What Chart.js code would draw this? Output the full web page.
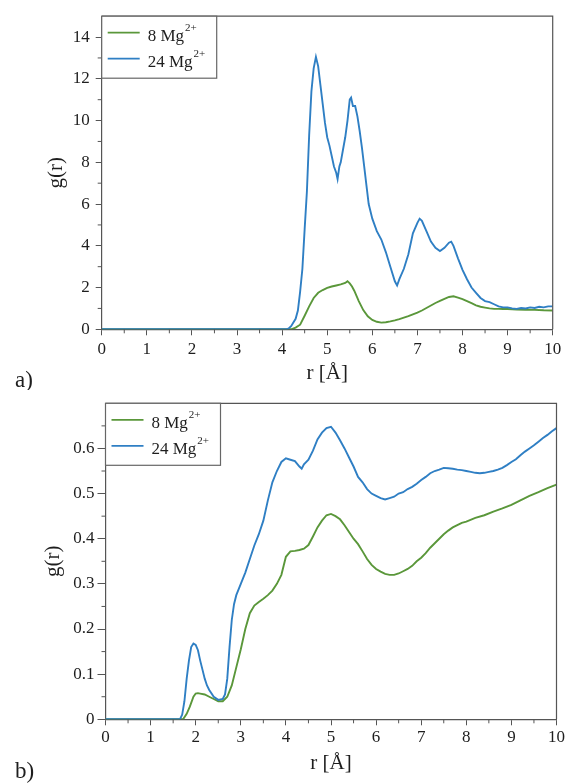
<!DOCTYPE html>
<html>
<head>
<meta charset="utf-8">
<script src="https://cdn.jsdelivr.net/npm/chart.js@4"></script>
<style>
  html, body { margin: 0; padding: 0; background: #fff; }
  #wrap { position: relative; width: 568px; height: 783px; }
  .panel { position: absolute; left: 0; width: 568px; }
  #panelA { top: 0; height: 390px; }
  #panelB { top: 390px; height: 393px; }
</style>
</head>
<body>
<div id="wrap">
  <div class="panel" id="panelA"><canvas id="chartA"></canvas></div>
  <div class="panel" id="panelB"><canvas id="chartB"></canvas></div>
</div>
<script>
// legend text: "<count> Mg" followed by a raised charge
const ionLabels = ['8 Mg', '24 Mg'];
const ionCharge = '2+';
const lineColors = ['#5a973a', '#2f7fc4'];

// panel a) – r in Å, g(r)
const rA8 = [0, 4.2, 4.3, 4.4, 4.5, 4.6, 4.7, 4.8, 4.9, 5.0, 5.1, 5.2, 5.3, 5.4, 5.45, 5.5, 5.55, 5.6,
  5.7, 5.8, 5.9, 6.0, 6.1, 6.2, 6.3, 6.4, 6.5, 6.6, 6.7, 6.8, 6.9, 7.0, 7.1, 7.2, 7.3, 7.4, 7.5, 7.6,
  7.7, 7.8, 7.9, 8.0, 8.1, 8.2, 8.3, 8.4, 8.5, 8.6, 8.7, 8.8, 8.9, 9.0, 9.2, 9.4, 9.6, 9.8, 10];
const gA8 = [0, 0, 0.08, 0.22, 0.65, 1.1, 1.5, 1.75, 1.88, 1.98, 2.05, 2.1, 2.15, 2.22, 2.3, 2.2, 2.05, 1.85,
  1.35, 0.92, 0.62, 0.45, 0.36, 0.32, 0.34, 0.38, 0.43, 0.49, 0.56, 0.63, 0.72, 0.8, 0.9, 1.02, 1.14, 1.26, 1.36, 1.46,
  1.55, 1.58, 1.52, 1.45, 1.35, 1.25, 1.15, 1.08, 1.04, 1.0, 0.98, 0.98, 0.97, 0.97, 0.95, 0.94, 0.93, 0.91, 0.9];

const rA24 = [0, 4.1, 4.15, 4.2, 4.3, 4.35, 4.4, 4.45, 4.5, 4.55, 4.6, 4.65, 4.7, 4.75, 4.8, 4.85, 4.9, 4.95,
  5.0, 5.05, 5.1, 5.15, 5.2, 5.23, 5.27, 5.3, 5.35, 5.4, 5.45, 5.5, 5.53, 5.57, 5.62, 5.67, 5.72, 5.77, 5.82, 5.87,
  5.92, 6.0, 6.1, 6.2, 6.3, 6.4, 6.5, 6.55, 6.6, 6.7, 6.8, 6.9, 7.0, 7.05, 7.1, 7.2, 7.3, 7.4, 7.5, 7.6, 7.7, 7.75,
  7.8, 7.9, 8.0, 8.1, 8.2, 8.3, 8.4, 8.5, 8.6, 8.7, 8.8, 8.9, 9.0, 9.1, 9.2, 9.3, 9.4, 9.5, 9.6, 9.7, 9.8, 9.9, 10];
const gA24 = [0, 0, 0.05, 0.15, 0.5, 0.9, 1.8, 2.9, 4.8, 6.6, 9.3, 11.4, 12.5, 13.05, 12.6, 11.7, 10.8, 9.9,
  9.2, 8.8, 8.3, 7.8, 7.5, 7.2, 7.8, 8.0, 8.6, 9.2, 10.0, 11.0, 11.1, 10.7, 10.7, 10.2, 9.5, 8.7, 7.8, 6.9,
  6.0, 5.3, 4.7, 4.3, 3.7, 3.0, 2.3, 2.1, 2.4, 2.9, 3.6, 4.6, 5.1, 5.3, 5.2, 4.7, 4.2, 3.9, 3.75, 3.9, 4.15, 4.2,
  4.0, 3.4, 2.85, 2.4, 2.0, 1.75, 1.5, 1.35, 1.3, 1.2, 1.1, 1.05, 1.05, 1.0, 0.98, 1.02, 1.0, 1.05, 1.02, 1.08, 1.05, 1.1, 1.1];

// panel b)
const rB8 = [0, 1.72, 1.8, 1.87, 1.95, 2.0, 2.05, 2.1, 2.2, 2.3, 2.4, 2.5, 2.6, 2.7, 2.8, 2.9, 3.0, 3.1, 3.2,
  3.3, 3.4, 3.5, 3.6, 3.7, 3.8, 3.9, 4.0, 4.1, 4.2, 4.3, 4.4, 4.5, 4.6, 4.7, 4.8, 4.9, 5.0, 5.1, 5.2, 5.3, 5.4,
  5.5, 5.6, 5.7, 5.8, 5.9, 6.0, 6.1, 6.2, 6.3, 6.4, 6.5, 6.6, 6.7, 6.8, 6.9, 7.0, 7.1, 7.2, 7.3, 7.4, 7.5, 7.6,
  7.7, 7.8, 7.9, 8.0, 8.2, 8.4, 8.6, 8.8, 9.0, 9.2, 9.4, 9.6, 9.8, 10];
const gB8 = [0, 0, 0.012, 0.028, 0.05, 0.057, 0.058, 0.057, 0.055, 0.05, 0.045, 0.04, 0.04, 0.05, 0.075, 0.115, 0.155, 0.2, 0.235,
  0.252, 0.26, 0.267, 0.275, 0.285, 0.3, 0.32, 0.36, 0.372, 0.373, 0.375, 0.378, 0.386, 0.405, 0.425, 0.44, 0.452, 0.455, 0.45, 0.443, 0.43, 0.415,
  0.4, 0.388, 0.372, 0.355, 0.342, 0.333, 0.327, 0.322, 0.32, 0.32, 0.323, 0.328, 0.333, 0.34, 0.35, 0.358, 0.368, 0.38, 0.39, 0.4, 0.41, 0.418,
  0.425, 0.43, 0.435, 0.438, 0.446, 0.452, 0.46, 0.467, 0.475, 0.485, 0.495, 0.503, 0.512, 0.52];

const rB24 = [0, 1.65, 1.7, 1.75, 1.8, 1.85, 1.9, 1.95, 2.0, 2.05, 2.1, 2.15, 2.2, 2.25, 2.3, 2.4, 2.5, 2.6, 2.65,
  2.7, 2.75, 2.8, 2.85, 2.9, 3.0, 3.1, 3.2, 3.3, 3.4, 3.5, 3.6, 3.7, 3.8, 3.9, 4.0, 4.1, 4.2, 4.3, 4.35, 4.4, 4.5,
  4.6, 4.7, 4.8, 4.9, 5.0, 5.1, 5.2, 5.3, 5.4, 5.5, 5.6, 5.7, 5.8, 5.9, 6.0, 6.1, 6.2, 6.3, 6.4, 6.5, 6.6, 6.7,
  6.8, 6.9, 7.0, 7.1, 7.2, 7.3, 7.4, 7.5, 7.6, 7.7, 7.8, 7.9, 8.0, 8.1, 8.2, 8.3, 8.4, 8.5, 8.6, 8.7, 8.8, 8.9,
  9.0, 9.1, 9.2, 9.3, 9.4, 9.5, 9.6, 9.7, 9.8, 9.9, 10];
const gB24 = [0, 0, 0.01, 0.04, 0.09, 0.13, 0.16, 0.168, 0.165, 0.153, 0.13, 0.11, 0.09, 0.075, 0.065, 0.05, 0.043, 0.045, 0.055,
  0.09, 0.16, 0.22, 0.255, 0.275, 0.3, 0.325, 0.355, 0.385, 0.41, 0.44, 0.485, 0.525, 0.55, 0.57, 0.578, 0.575, 0.572, 0.56, 0.555, 0.565, 0.575,
  0.595, 0.62, 0.635, 0.645, 0.648, 0.635, 0.618, 0.6, 0.58, 0.56, 0.537, 0.525, 0.51, 0.5, 0.495, 0.49, 0.487, 0.49, 0.493, 0.5, 0.503, 0.51,
  0.515, 0.522, 0.53, 0.537, 0.545, 0.55, 0.553, 0.557, 0.556, 0.555, 0.553, 0.552, 0.55, 0.548, 0.546, 0.545, 0.546, 0.548, 0.55, 0.553, 0.557, 0.563,
  0.57, 0.576, 0.585, 0.593, 0.6, 0.607, 0.615, 0.623, 0.63, 0.638, 0.645];

const SERIF = '"Liberation Serif", "DejaVu Serif", serif';
const AXIS = '#555';
const TEXT = '#1e1e1e';

const pts = (rs, gs) => rs.map((r, i) => ({ x: r, y: gs[i] }));

// frame, minor ticks, legend box and panel letter
const decorPlugin = {
  id: 'decor',
  afterDraw(chart, args, opts) {
    const { ctx, chartArea: a, scales } = chart;
    ctx.save();
    ctx.strokeStyle = AXIS;
    ctx.lineWidth = 1.2;
    ctx.beginPath();
    ctx.moveTo(a.left, a.top); ctx.lineTo(a.right, a.top); ctx.lineTo(a.right, a.bottom);
    ctx.stroke();

    // minor ticks
    ctx.lineWidth = 1;
    ctx.beginPath();
    for (let v = opts.minorX; v < 10; v += 1) {
      const px = scales.x.getPixelForValue(v);
      ctx.moveTo(px, a.bottom); ctx.lineTo(px, a.bottom + 4);
    }
    opts.minorY.forEach(v => {
      const py = scales.y.getPixelForValue(v);
      ctx.moveTo(a.left, py); ctx.lineTo(a.left - 4, py);
    });
    ctx.stroke();

    // legend
    const lx = a.left, ly = a.top, lw = 115, lh = 62;
    ctx.fillStyle = '#fff';
    ctx.fillRect(lx, ly, lw, lh);
    ctx.strokeStyle = '#666';
    ctx.lineWidth = 1.2;
    ctx.strokeRect(lx, ly, lw, lh);
    ionLabels.forEach((lab, i) => {
      const cy = ly + 16.5 + i * 26;
      ctx.strokeStyle = lineColors[i];
      ctx.lineWidth = 1.8;
      ctx.beginPath();
      ctx.moveTo(lx + 6, cy); ctx.lineTo(lx + 38, cy);
      ctx.stroke();
      ctx.fillStyle = TEXT;
      ctx.textBaseline = 'alphabetic';
      ctx.textAlign = 'left';
      ctx.font = '17px ' + SERIF;
      ctx.fillText(lab, lx + 46, cy + 8.5);
      const w = ctx.measureText(lab).width;
      ctx.font = '11px ' + SERIF;
      ctx.fillText(ionCharge, lx + 46 + w + 1, cy - 1.5);
    });

    // panel letter
    ctx.fillStyle = TEXT;
    ctx.font = '23px ' + SERIF;
    ctx.textBaseline = 'middle';
    ctx.fillText(opts.letter, 15, chart.height - (opts.letterBottom));
    ctx.restore();
  }
};

function makeChart(id, sets, cfg) {
  return new Chart(document.getElementById(id), {
    type: 'scatter',
    data: {
      datasets: sets.map((s, i) => ({
        label: ionLabels[i] + ' ' + ionCharge,
        data: s,
        showLine: true,
        borderColor: lineColors[i],
        borderWidth: 1.9,
        pointRadius: 0,
        tension: 0,
        order: 1 - i
      }))
    },
    options: {
      responsive: true,
      maintainAspectRatio: false,
      animation: false,
      events: [],
      layout: { padding: { top: cfg.top, right: cfg.right, left: 0, bottom: 0 } },
      plugins: {
        legend: { display: false },
        tooltip: { enabled: false },
        decor: { minorX: 0.5, minorY: cfg.minorY, letter: cfg.letter, letterBottom: cfg.letterBottom }
      },
      scales: {
        x: {
          type: 'linear', min: 0, max: 10,
          afterFit: s => { s.height = cfg.xHeight; },
          border: { color: AXIS, width: 1.2 },
          grid: { drawOnChartArea: false, tickLength: 6, color: AXIS, tickWidth: 1 },
          ticks: { stepSize: 1, padding: cfg.xTickPad, color: TEXT, maxRotation: 0,
                   font: { family: SERIF, size: 17 } },
          title: { display: true, text: 'r [Å]', color: TEXT,
                   font: { family: SERIF, size: 21 }, padding: { top: 0, bottom: cfg.xTitlePad } }
        },
        y: {
          type: 'linear', min: 0, max: cfg.yMax,
          afterFit: s => { s.width = cfg.left; },
          afterBuildTicks: s => { s.ticks = s.ticks.filter(t => t.value <= cfg.yLastTick + 1e-9); },
          border: { color: AXIS, width: 1.2 },
          grid: { drawOnChartArea: false, tickLength: cfg.yTickLen, color: AXIS, tickWidth: 1 },
          ticks: { stepSize: cfg.yStep, padding: cfg.yTickPad, color: TEXT,
                   font: { family: SERIF, size: 17 },
                   callback: v => cfg.yStep < 1 ? (Math.round(v * 10) / 10).toString() : v },
          title: { display: true, text: 'g(r)', color: TEXT,
                   font: { family: SERIF, size: 21 }, padding: { top: cfg.yTitlePad, bottom: 0 } }
        }
      }
    },
    plugins: [decorPlugin]
  });
}

makeChart('chartA', [pts(rA8, gA8), pts(rA24, gA24)], {
  top: 12.7, right: 15.3, left: 101.7, xHeight: 60.7,
  yMax: 15, yStep: 2, yLastTick: 14, yTickLen: 6, yTickPad: 6, xTickPad: 4.5,
  minorY: [1, 3, 5, 7, 9, 11, 13],
  xTitlePad: 4, yTitlePad: 44, letter: 'a)', letterBottom: 9
});

makeChart('chartB', [pts(rB8, gB8), pts(rB24, gB24)], {
  top: 13.3, right: 11.5, left: 105.5, xHeight: 63.7,
  yMax: 0.7, yStep: 0.1, yLastTick: 0.6, yTickLen: 8, yTickPad: 3, xTickPad: 2.5,
  minorY: [0.05, 0.15, 0.25, 0.35, 0.45, 0.55, 0.65],
  xTitlePad: 7, yTitlePad: 41, letter: 'b)', letterBottom: 11
});
</script>
</body>
</html>
